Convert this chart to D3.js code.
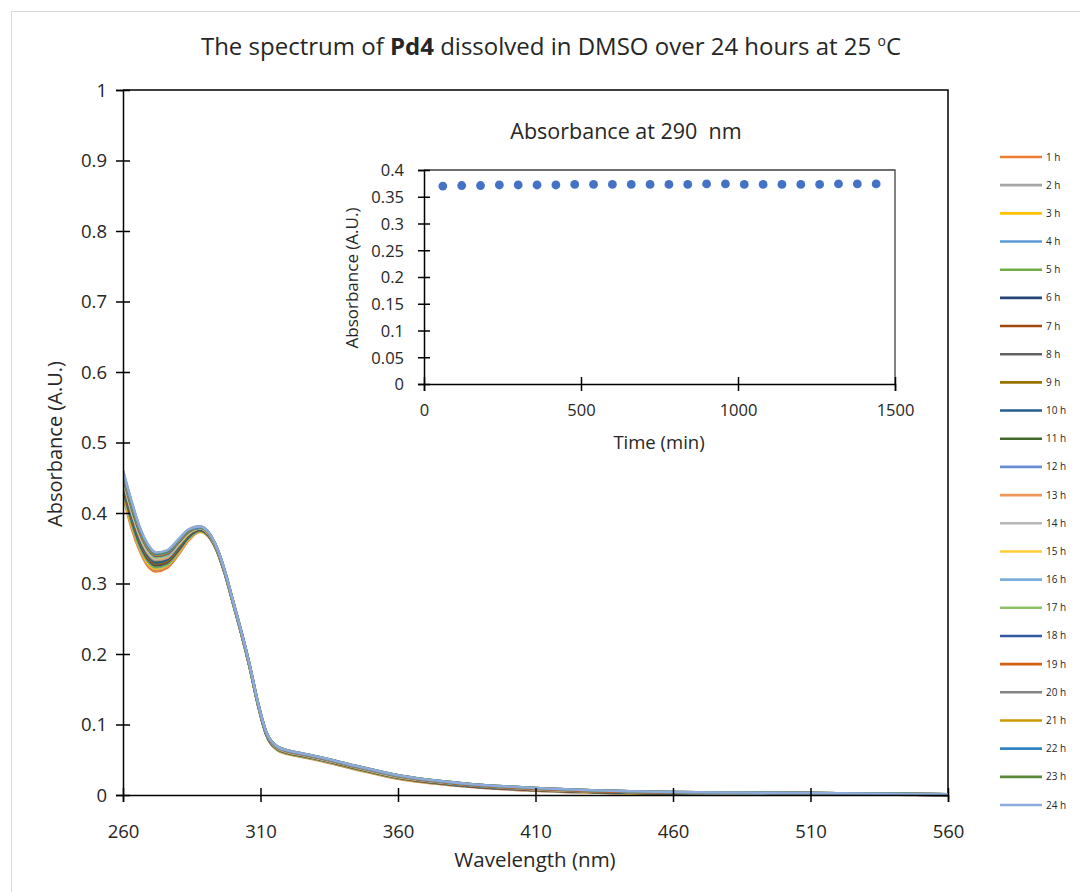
<!DOCTYPE html>
<html>
<head>
<meta charset="utf-8">
<script src="https://cdn.jsdelivr.net/npm/d3@7"></script>
<style>
  html, body { margin: 0; padding: 0; background: #fff; }
  svg { display: block; font-family: "Open Sans", sans-serif; }
</style>
</head>
<body>
<svg id="chart" width="1080" height="892"></svg>
<script>
// ---------------- DATA ----------------
const wavelengths = [260,263,266,269,272,276,280,284,288,291,294,297,300,303,306,309,312,316,320,325,330,345,360,385,410,450,500,560];

const seriesNames = ["1 h","2 h","3 h","4 h","5 h","6 h","7 h","8 h","9 h","10 h","11 h","12 h",
                     "13 h","14 h","15 h","16 h","17 h","18 h","19 h","20 h","21 h","22 h","23 h","24 h"];

const seriesColors = ["#ED7D31","#A5A5A5","#FFC000","#5B9BD5","#70AD47","#264478","#9E480E","#636363",
                      "#997300","#255E91","#43682B","#698ED0","#F1975A","#B7B7B7","#FFCD33","#7CAFDD",
                      "#8CC168","#335AA1","#D26012","#848484","#CC9A00","#3282C6","#5A8A39","#8FAADC"];

const s1  = [0.425,0.380,0.347,0.325,0.317,0.322,0.340,0.362,0.373,0.367,0.347,0.314,0.272,0.229,0.182,0.129,0.086,0.064,0.058,0.054,0.050,0.036,0.023,0.012,0.006,0.002,0.001,0.000];
const s2  = [0.429,0.384,0.350,0.328,0.320,0.325,0.342,0.364,0.374,0.368,0.348,0.314,0.272,0.229,0.182,0.129,0.086,0.065,0.059,0.055,0.051,0.037,0.024,0.012,0.006,0.002,0.001,0.000];
const s3  = [0.430,0.385,0.352,0.329,0.321,0.326,0.343,0.364,0.374,0.368,0.348,0.315,0.272,0.229,0.182,0.129,0.087,0.065,0.059,0.055,0.051,0.037,0.024,0.013,0.007,0.002,0.001,0.000];
const s4  = [0.433,0.388,0.354,0.332,0.323,0.327,0.345,0.365,0.375,0.368,0.348,0.315,0.273,0.230,0.183,0.130,0.087,0.065,0.059,0.055,0.051,0.037,0.024,0.013,0.007,0.003,0.001,0.000];
const s5  = [0.434,0.390,0.356,0.333,0.324,0.328,0.346,0.366,0.375,0.369,0.348,0.315,0.273,0.230,0.183,0.130,0.087,0.065,0.059,0.055,0.051,0.037,0.024,0.013,0.007,0.003,0.002,0.000];
const s6  = [0.437,0.393,0.358,0.335,0.326,0.330,0.347,0.367,0.376,0.369,0.349,0.315,0.273,0.230,0.183,0.130,0.087,0.066,0.060,0.056,0.052,0.038,0.025,0.013,0.007,0.003,0.002,0.000];
const s7  = [0.438,0.394,0.360,0.336,0.327,0.331,0.348,0.368,0.376,0.369,0.349,0.316,0.273,0.230,0.183,0.130,0.088,0.066,0.060,0.056,0.052,0.038,0.025,0.013,0.007,0.003,0.002,0.000];
const s8  = [0.440,0.396,0.361,0.338,0.328,0.332,0.349,0.368,0.376,0.370,0.349,0.316,0.273,0.230,0.183,0.130,0.088,0.066,0.060,0.056,0.052,0.038,0.025,0.014,0.008,0.003,0.002,0.000];
const s9  = [0.441,0.397,0.363,0.339,0.329,0.333,0.350,0.369,0.377,0.370,0.349,0.316,0.273,0.230,0.183,0.130,0.088,0.066,0.060,0.056,0.052,0.038,0.025,0.014,0.008,0.003,0.002,0.000];
const s10 = [0.442,0.399,0.364,0.340,0.330,0.334,0.351,0.369,0.377,0.370,0.350,0.316,0.274,0.230,0.184,0.130,0.088,0.067,0.061,0.057,0.053,0.039,0.026,0.014,0.008,0.003,0.002,0.000];
const s11 = [0.444,0.401,0.366,0.342,0.332,0.336,0.352,0.370,0.377,0.370,0.350,0.316,0.274,0.231,0.184,0.131,0.088,0.067,0.061,0.057,0.053,0.039,0.026,0.014,0.008,0.004,0.002,0.001];
const s12 = [0.445,0.402,0.367,0.343,0.333,0.336,0.353,0.371,0.378,0.371,0.350,0.316,0.274,0.231,0.184,0.131,0.088,0.067,0.061,0.057,0.053,0.039,0.026,0.014,0.008,0.004,0.002,0.001];
const s13 = [0.447,0.404,0.368,0.344,0.334,0.337,0.354,0.371,0.378,0.371,0.350,0.317,0.274,0.231,0.184,0.131,0.089,0.067,0.061,0.057,0.053,0.039,0.026,0.015,0.008,0.004,0.002,0.001];
const s14 = [0.448,0.405,0.369,0.345,0.335,0.339,0.355,0.372,0.378,0.371,0.350,0.317,0.274,0.231,0.184,0.131,0.089,0.067,0.061,0.057,0.053,0.039,0.026,0.015,0.009,0.004,0.002,0.001];
const s15 = [0.449,0.407,0.371,0.347,0.336,0.340,0.355,0.372,0.379,0.371,0.351,0.317,0.274,0.231,0.184,0.131,0.089,0.068,0.062,0.058,0.054,0.040,0.027,0.015,0.009,0.004,0.002,0.001];
const s16 = [0.451,0.408,0.372,0.348,0.337,0.340,0.356,0.373,0.379,0.371,0.351,0.317,0.274,0.231,0.184,0.131,0.089,0.068,0.062,0.058,0.054,0.040,0.027,0.015,0.009,0.004,0.002,0.001];
const s17 = [0.452,0.409,0.373,0.349,0.338,0.341,0.357,0.374,0.379,0.372,0.351,0.317,0.274,0.231,0.184,0.131,0.089,0.068,0.062,0.058,0.054,0.040,0.027,0.015,0.009,0.004,0.003,0.001];
const s18 = [0.453,0.410,0.374,0.350,0.339,0.342,0.358,0.374,0.379,0.372,0.351,0.317,0.274,0.231,0.184,0.131,0.089,0.068,0.062,0.058,0.054,0.040,0.027,0.015,0.009,0.004,0.003,0.001];
const s19 = [0.454,0.412,0.376,0.351,0.340,0.343,0.359,0.375,0.380,0.372,0.351,0.317,0.275,0.231,0.185,0.132,0.089,0.068,0.062,0.058,0.054,0.040,0.027,0.015,0.009,0.004,0.003,0.001];
const s20 = [0.455,0.413,0.377,0.352,0.341,0.344,0.359,0.375,0.380,0.372,0.351,0.318,0.275,0.232,0.185,0.132,0.090,0.068,0.062,0.058,0.054,0.040,0.027,0.016,0.010,0.005,0.003,0.001];
const s21 = [0.457,0.414,0.378,0.353,0.341,0.345,0.360,0.376,0.380,0.372,0.352,0.318,0.275,0.232,0.185,0.132,0.090,0.069,0.063,0.059,0.055,0.041,0.028,0.016,0.010,0.005,0.003,0.001];
const s22 = [0.458,0.415,0.379,0.354,0.342,0.345,0.361,0.376,0.380,0.373,0.352,0.318,0.275,0.232,0.185,0.132,0.090,0.069,0.063,0.059,0.055,0.041,0.028,0.016,0.010,0.005,0.003,0.001];
const s23 = [0.459,0.417,0.380,0.355,0.343,0.346,0.361,0.376,0.381,0.373,0.352,0.318,0.275,0.232,0.185,0.132,0.090,0.069,0.063,0.059,0.055,0.041,0.028,0.016,0.010,0.005,0.003,0.001];
const s24 = [0.460,0.418,0.381,0.356,0.344,0.347,0.362,0.377,0.381,0.373,0.352,0.318,0.275,0.232,0.185,0.132,0.090,0.069,0.063,0.059,0.055,0.041,0.028,0.016,0.010,0.005,0.003,0.001];

const spectra = [s1,s2,s3,s4,s5,s6,s7,s8,s9,s10,s11,s12,s13,s14,s15,s16,s17,s18,s19,s20,s21,s22,s23,s24];

const mainXTicks = [260,310,360,410,460,510,560];
const mainYTicks = [0,0.1,0.2,0.3,0.4,0.5,0.6,0.7,0.8,0.9,1];

// inset
const insetTimes = [60,120,180,240,300,360,420,480,540,600,660,720,780,840,900,960,1020,1080,1140,1200,1260,1320,1380,1440];
const insetAbs   = [0.370,0.371,0.371,0.372,0.372,0.372,0.372,0.373,0.373,0.373,0.373,0.373,0.373,0.373,0.374,0.374,0.373,0.373,0.373,0.373,0.373,0.374,0.374,0.374];
const insetXTicks = [0,500,1000,1500];
const insetYTicks = [0,0.05,0.1,0.15,0.2,0.25,0.3,0.35,0.4];

// ---------------- DRAW ----------------
const svg = d3.select("#chart");
const textColor = "#262626";
const FONT = "'Open Sans', sans-serif";

// outer border
svg.append("rect").attr("x",11.5).attr("y",11.5).attr("width",1100).attr("height",1000)
  .attr("fill","none").attr("stroke","#d9d9d9").attr("stroke-width",1);

// title
const title = svg.append("text").attr("x",551).attr("y",55).attr("text-anchor","middle")
  .attr("font-size",24).attr("fill",textColor);
title.append("tspan").text("The spectrum of ");
title.append("tspan").attr("font-weight","bold").text("Pd4");
title.append("tspan").text(" dissolved in DMSO over 24 hours at 25 ");
title.append("tspan").attr("font-size",14).attr("dy",-9).text("o");
title.append("tspan").attr("dy",9).text("C");

// main scales
const M = {left:123, right:948, top:90, bottom:795};
const x = d3.scaleLinear().domain([260,560]).range([M.left,M.right]);
const y = d3.scaleLinear().domain([0,1]).range([M.bottom,M.top]);

// frame (top/right)
svg.append("path").attr("d",`M${M.left},${M.top}H${M.right}V${M.bottom}`)
  .attr("fill","none").attr("stroke","#000").attr("stroke-width",1.5);

// spectra lines
svg.append("clipPath").attr("id","mainclip").append("rect")
  .attr("x",M.left).attr("y",M.top).attr("width",M.right-M.left).attr("height",M.bottom-M.top+3);
const line = d3.line().x((d,i)=>x(wavelengths[i])).y(d=>y(d)).curve(d3.curveMonotoneX);
const gl = svg.append("g").attr("clip-path","url(#mainclip)");
spectra.forEach((s,i)=>{
  gl.append("path").attr("d",line(s)).attr("fill","none")
    .attr("stroke",seriesColors[i]).attr("stroke-width",2.6).attr("stroke-linejoin","round");
});

// axes (cross ticks)
const xAxis = svg.append("g").attr("transform",`translate(0,${M.bottom})`)
  .call(d3.axisBottom(x).tickValues(mainXTicks).tickSize(7).tickFormat(d3.format("d")));
xAxis.selectAll(".tick line").attr("y1",-7).attr("y2",7);
const yAxis = svg.append("g").attr("transform",`translate(${M.left},0)`)
  .call(d3.axisLeft(y).tickValues(mainYTicks).tickSize(7).tickFormat(d=>d3.format("~g")(d)));
yAxis.selectAll(".tick line").attr("x1",-7).attr("x2",7);
[xAxis,yAxis].forEach(g=>{
  g.attr("font-family",FONT);
  g.select(".domain").attr("stroke","#000").attr("stroke-width",1.5);
  g.selectAll(".tick line").attr("stroke","#000").attr("stroke-width",1.5);
  g.selectAll(".tick text").attr("font-size",18.5).attr("fill",textColor);
});
xAxis.selectAll(".tick text").attr("dy",0).attr("y",43);
yAxis.selectAll(".tick text").attr("x",-16).attr("dy","0.35em");

svg.append("text").attr("x",535).attr("y",867).attr("text-anchor","middle")
  .attr("font-size",20.5).attr("fill",textColor).text("Wavelength (nm)");
svg.append("text").attr("transform","translate(62,444) rotate(-90)").attr("text-anchor","middle")
  .attr("font-size",20).attr("fill",textColor).text("Absorbance (A.U.)");

// legend
const legendY = d3.scaleLinear().domain([0,23]).range([157,805]);
const lg = svg.append("g");
seriesNames.forEach((n,i)=>{
  const yy = legendY(i);
  lg.append("line").attr("x1",1000).attr("x2",1042).attr("y1",yy).attr("y2",yy)
    .attr("stroke",seriesColors[i]).attr("stroke-width",2.6);
  lg.append("text").attr("x",1046).attr("y",yy+3.5).attr("font-size",10).attr("fill",textColor).text(n);
});

// ---------------- INSET ----------------
const I = {left:424, right:895, top:170, bottom:384};
const ix = d3.scaleLinear().domain([0,1500]).range([I.left,I.right]);
const iy = d3.scaleLinear().domain([0,0.4]).range([I.bottom,I.top]);

svg.append("text").attr("x",626).attr("y",139).attr("text-anchor","middle")
  .attr("font-size",21.5).attr("fill",textColor).attr("xml:space","preserve").text("Absorbance at 290  nm");

svg.append("path").attr("d",`M${I.left},${I.top}H${I.right}V${I.bottom}`)
  .attr("fill","none").attr("stroke","#404040").attr("stroke-width",1.3);

svg.append("g").selectAll("circle").data(insetAbs).join("circle")
  .attr("cx",(d,i)=>ix(insetTimes[i])).attr("cy",d=>iy(d)).attr("r",4.4).attr("fill","#4472C4");

const ixAxis = svg.append("g").attr("transform",`translate(0,${I.bottom})`)
  .call(d3.axisBottom(ix).tickValues(insetXTicks).tickSize(7).tickFormat(d3.format("d")));
ixAxis.selectAll(".tick line").attr("y1",-7).attr("y2",7);
const iyAxis = svg.append("g").attr("transform",`translate(${I.left},0)`)
  .call(d3.axisLeft(iy).tickValues(insetYTicks).tickSize(6).tickFormat(d=>d3.format("~g")(d)));
iyAxis.selectAll(".tick line").attr("x1",-6).attr("x2",6);
[ixAxis,iyAxis].forEach(g=>{
  g.attr("font-family",FONT);
  g.select(".domain").attr("stroke","#000").attr("stroke-width",1.5);
  g.selectAll(".tick line").attr("stroke","#000").attr("stroke-width",1.5);
  g.selectAll(".tick text").attr("font-size",16.5).attr("fill",textColor);
});
ixAxis.selectAll(".tick text").attr("dy",0).attr("y",32);
iyAxis.selectAll(".tick text").attr("x",-20).attr("dy","0.35em");

svg.append("text").attr("x",659).attr("y",449).attr("text-anchor","middle")
  .attr("font-size",18.5).attr("fill",textColor).text("Time (min)");
svg.append("text").attr("transform","translate(358,278) rotate(-90)").attr("text-anchor","middle")
  .attr("font-size",17).attr("fill",textColor).text("Absorbance (A.U.)");
</script>
</body>
</html>
